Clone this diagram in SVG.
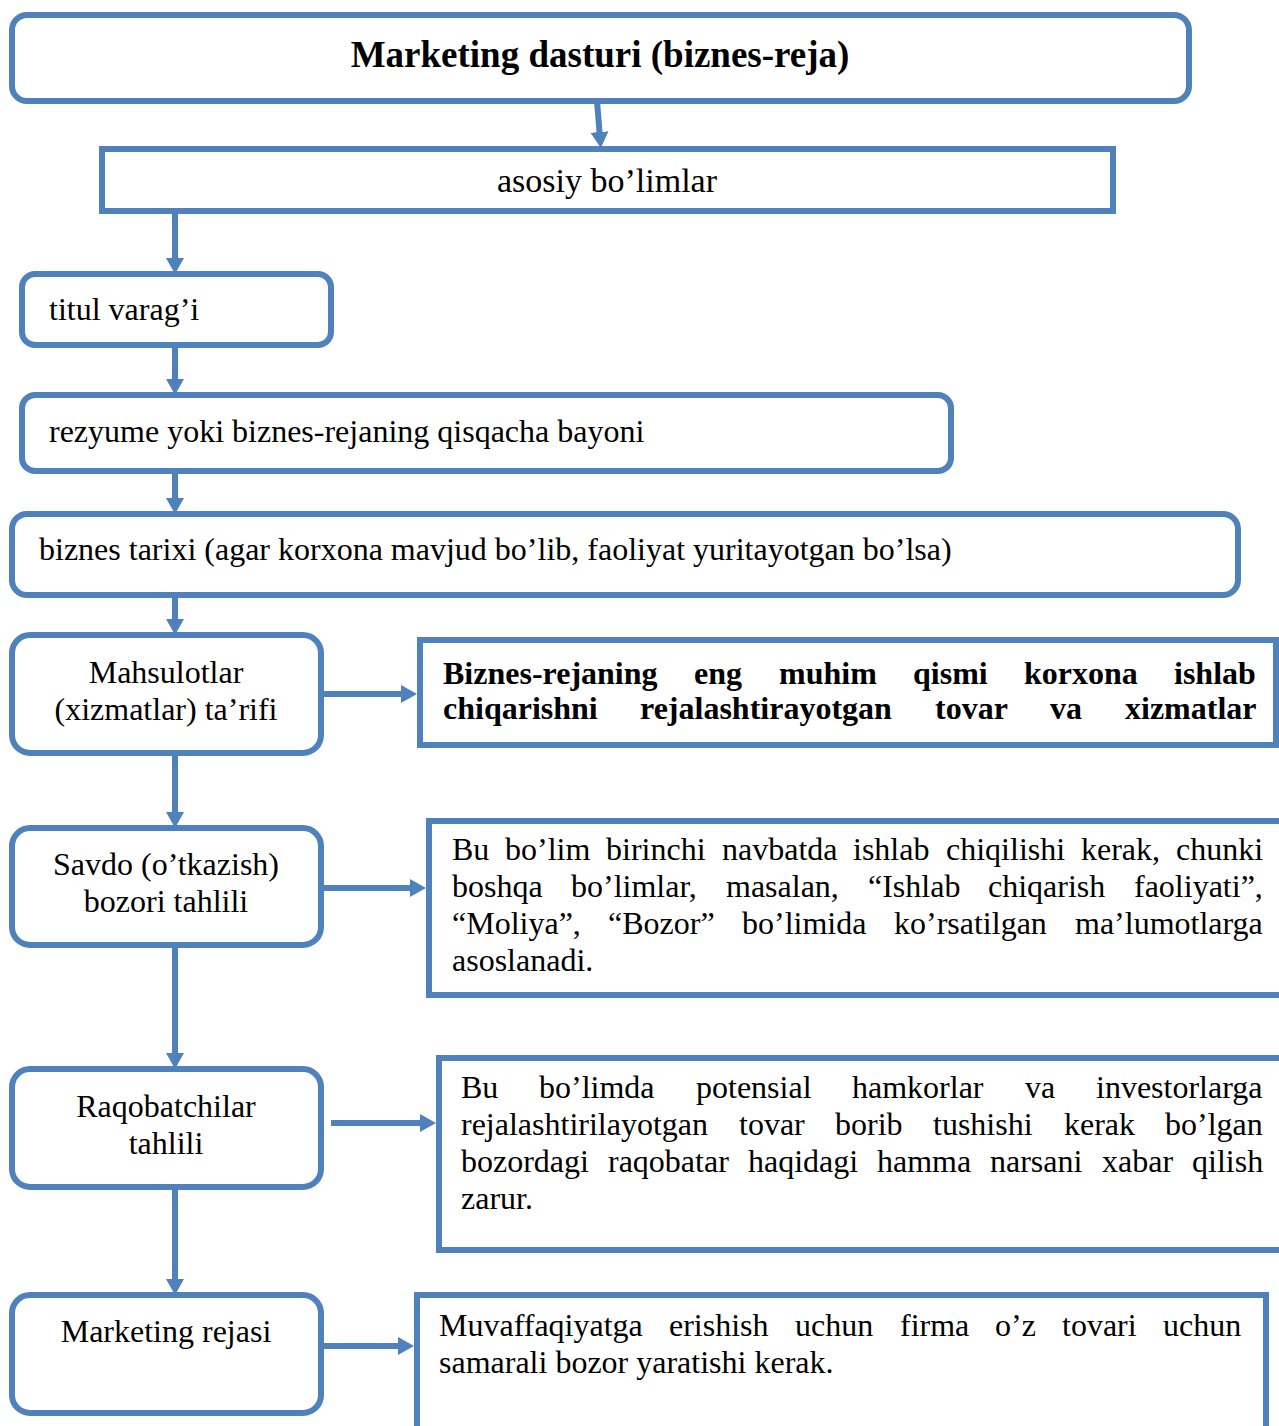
<svg xmlns="http://www.w3.org/2000/svg" width="1279" height="1426" viewBox="0 0 1279 1426">
  <defs>
    <style>
      .box { fill: #ffffff; stroke: #4F81BD; stroke-width: 6; }
      .link { stroke: #4F81BD; stroke-width: 6; fill: none; }
      .t { font-family: "Liberation Serif", "Times New Roman", serif; font-size: 32px; fill: #000000; }
      .c { text-anchor: middle; }
      .b { font-weight: bold; }
      .title { font-family: "Liberation Serif", "Times New Roman", serif; font-size: 37px; font-weight: bold; text-anchor: middle; fill: #000000; }
    </style>
    <marker id="arrow" viewBox="0 0 16 18" refX="6" refY="9" markerWidth="16" markerHeight="18" markerUnits="userSpaceOnUse" orient="auto">
      <path d="M0,0 L16,9 L0,18 z" fill="#4F81BD"/>
    </marker>
  </defs>

  <rect width="1279" height="1426" fill="#ffffff"/>

  <!-- connectors -->
  <g id="connectors">
    <line class="link" x1="597" y1="101" x2="600" y2="138" marker-end="url(#arrow)"/>
    <line class="link" x1="175" y1="211" x2="175" y2="264" marker-end="url(#arrow)"/>
    <line class="link" x1="175" y1="345" x2="175" y2="385" marker-end="url(#arrow)"/>
    <line class="link" x1="175" y1="471" x2="175" y2="504" marker-end="url(#arrow)"/>
    <line class="link" x1="175" y1="595" x2="175" y2="625" marker-end="url(#arrow)"/>
    <line class="link" x1="175" y1="753" x2="175" y2="818" marker-end="url(#arrow)"/>
    <line class="link" x1="175" y1="945" x2="175" y2="1059" marker-end="url(#arrow)"/>
    <line class="link" x1="175" y1="1187" x2="175" y2="1285" marker-end="url(#arrow)"/>
    <line class="link" x1="321" y1="694" x2="407" y2="694" marker-end="url(#arrow)"/>
    <line class="link" x1="321" y1="888" x2="416" y2="888" marker-end="url(#arrow)"/>
    <line class="link" x1="331" y1="1123" x2="426" y2="1123" marker-end="url(#arrow)"/>
    <line class="link" x1="321" y1="1346" x2="404" y2="1346" marker-end="url(#arrow)"/>
  </g>

  <!-- main heading -->
  <g id="node-program">
    <rect class="box" x="12" y="15" width="1177" height="86" rx="15"/>
    <text class="title" x="600" y="67">Marketing dasturi (biznes-reja)</text>
  </g>

  <g id="node-sections">
    <rect class="box" x="102" y="149" width="1011" height="62"/>
    <text class="t c" x="607" y="192" style="font-size:34px">asosiy bo’limlar</text>
  </g>

  <g id="node-title-page">
    <rect class="box" x="22" y="274" width="309" height="71" rx="13"/>
    <text class="t" x="49" y="320">titul varag’i</text>
  </g>

  <g id="node-summary">
    <rect class="box" x="22" y="395" width="929" height="76" rx="13"/>
    <text class="t" x="49" y="442">rezyume yoki biznes-rejaning qisqacha bayoni</text>
  </g>

  <g id="node-history">
    <rect class="box" x="12" y="514" width="1226" height="81" rx="15"/>
    <text class="t" x="39" y="560">biznes tarixi (agar korxona mavjud bo’lib, faoliyat yuritayotgan bo’lsa)</text>
  </g>

  <g id="node-products">
    <rect class="box" x="12" y="635" width="309" height="118" rx="18"/>
    <text class="t c" x="166" y="683">Mahsulotlar</text>
    <text class="t c" x="166" y="720">(xizmatlar) ta’rifi</text>
  </g>

  <!-- justified paragraphs: each word placed on its own x -->
  <g id="note-products">
    <rect class="box" x="420" y="640" width="856" height="105"/>
    <text class="t b" y="684"><tspan x="443">Biznes-rejaning</tspan><tspan x="694">eng</tspan><tspan x="779">muhim</tspan><tspan x="913">qismi</tspan><tspan x="1024">korxona</tspan><tspan x="1174">ishlab</tspan></text>
    <text class="t b" y="719"><tspan x="443">chiqarishni</tspan><tspan x="640">rejalashtirayotgan</tspan><tspan x="935">tovar</tspan><tspan x="1050">va</tspan><tspan x="1125">xizmatlar</tspan></text>
  </g>

  <g id="node-market">
    <rect class="box" x="12" y="828" width="309" height="117" rx="18"/>
    <text class="t c" x="166" y="875">Savdo (o’tkazish)</text>
    <text class="t c" x="166" y="912">bozori tahlili</text>
  </g>

  <g id="note-market">
    <rect class="box" x="429" y="821" width="880" height="174"/>
    <text class="t" y="860"><tspan x="452">Bu</tspan><tspan x="505">bo’lim</tspan><tspan x="606">birinchi</tspan><tspan x="722">navbatda</tspan><tspan x="853">ishlab</tspan><tspan x="946">chiqilishi</tspan><tspan x="1081">kerak,</tspan><tspan x="1176">chunki</tspan></text>
    <text class="t" y="897"><tspan x="452">boshqa</tspan><tspan x="571">bo’limlar,</tspan><tspan x="726">masalan,</tspan><tspan x="868">“Ishlab</tspan><tspan x="988">chiqarish</tspan><tspan x="1134">faoliyati”,</tspan></text>
    <text class="t" y="934"><tspan x="452">“Moliya”,</tspan><tspan x="608">“Bozor”</tspan><tspan x="742">bo’limida</tspan><tspan x="894">ko’rsatilgan</tspan><tspan x="1075">ma’lumotlarga</tspan></text>
    <text class="t" x="452" y="971">asoslanadi.</text>
  </g>

  <g id="node-competitors">
    <rect class="box" x="12" y="1069" width="309" height="118" rx="18"/>
    <text class="t c" x="166" y="1117">Raqobatchilar</text>
    <text class="t c" x="166" y="1154">tahlili</text>
  </g>

  <g id="note-competitors">
    <rect class="box" x="439" y="1058" width="870" height="192"/>
    <text class="t" y="1098"><tspan x="461">Bu</tspan><tspan x="539">bo’limda</tspan><tspan x="696">potensial</tspan><tspan x="852">hamkorlar</tspan><tspan x="1025">va</tspan><tspan x="1096">investorlarga</tspan></text>
    <text class="t" y="1135"><tspan x="461">rejalashtirilayotgan</tspan><tspan x="739">tovar</tspan><tspan x="835">borib</tspan><tspan x="933">tushishi</tspan><tspan x="1064">kerak</tspan><tspan x="1165">bo’lgan</tspan></text>
    <text class="t" y="1172"><tspan x="461">bozordagi</tspan><tspan x="608">raqobatar</tspan><tspan x="748">haqidagi</tspan><tspan x="877">hamma</tspan><tspan x="990">narsani</tspan><tspan x="1102">xabar</tspan><tspan x="1192">qilish</tspan></text>
    <text class="t" x="461" y="1209">zarur.</text>
  </g>

  <g id="node-plan">
    <rect class="box" x="12" y="1295" width="309" height="118" rx="18"/>
    <text class="t c" x="166" y="1342">Marketing rejasi</text>
  </g>

  <g id="note-plan">
    <rect class="box" x="417" y="1295" width="849" height="160"/>
    <text class="t" y="1336"><tspan x="439">Muvaffaqiyatga</tspan><tspan x="669">erishish</tspan><tspan x="795">uchun</tspan><tspan x="900">firma</tspan><tspan x="995">o’z</tspan><tspan x="1062">tovari</tspan><tspan x="1163">uchun</tspan></text>
    <text class="t" x="439" y="1373">samarali bozor yaratishi kerak.</text>
  </g>
</svg>
